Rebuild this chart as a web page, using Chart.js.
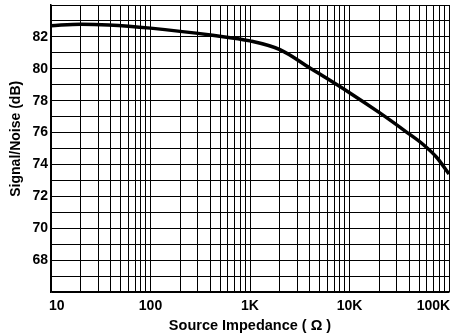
<!DOCTYPE html>
<html>
<head>
<meta charset="utf-8">
<script src="https://cdn.jsdelivr.net/npm/chart.js@4"></script>
<style>
html,body{margin:0;padding:0;background:#fff;}
#wrap{width:451px;height:335px;position:relative;}
</style>
</head>
<body>
<div id="wrap"><canvas id="c" width="451" height="335"></canvas></div>
<script>
const impedance = [10, 20, 38, 100, 420, 1000, 2000, 4000, 10000, 20500, 38000, 55000, 75000, 100000];
const snr = [82.7, 82.8, 82.75, 82.55, 82.1, 81.75, 81.2, 80.05, 78.5, 77.2, 76.0, 75.25, 74.45, 73.4];
const xTickValues = [10,20,30,40,50,60,70,80,90,100,200,300,400,500,600,700,800,900,1000,2000,3000,4000,5000,6000,7000,8000,9000,10000,20000,30000,40000,50000,60000,70000,80000,90000,100000];
const xTickLabels = {10: '   10', 100: '100', 1000: '1K', 10000: '10K', 100000: '100K        '};
const yLabels = [68, 70, 72, 74, 76, 78, 80, 82];
const xTitle = 'Source Impedance ( Ω )';
const yTitle = '     Signal/Noise (dB)';

const FONT = '"Liberation Sans", Arial, sans-serif';
Chart.defaults.font.family = FONT;
Chart.defaults.color = '#000';

new Chart(document.getElementById('c'), {
  type: 'line',
  data: {
    datasets: [{
      data: impedance.map((v, i) => ({x: v, y: snr[i]})),
      borderColor: '#000',
      borderWidth: 3.5,
      pointRadius: 0,
      cubicInterpolationMode: 'monotone',
      fill: false
    }]
  },
  options: {
    responsive: false,
    animation: false,
    layout: {padding: {left: 0, right: 2, top: 5, bottom: 0}},
    plugins: {legend: {display: false}, tooltip: {enabled: false}},
    scales: {
      x: {
        type: 'logarithmic',
        min: 10,
        max: 100000,
        afterBuildTicks: s => { s.ticks = xTickValues.map(v => ({value: v})); },
        afterFit: s => { s.height = 43; s.paddingLeft = 0; s.paddingRight = 0; },
        grid: {color: '#000', lineWidth: 1, drawTicks: false},
        border: {color: '#000', width: 1.5},
        ticks: {
          autoSkip: false, maxRotation: 0, padding: 6,
          font: {size: 14, weight: 'bold'},
          callback: v => xTickLabels[v] || ''
        },
        title: {display: true, text: xTitle, font: {size: 14.5, weight: 'bold'}, padding: {top: 0, bottom: 0}}
      },
      y: {
        min: 66,
        max: 84,
        afterBuildTicks: s => { const t = []; for (let v = 66; v <= 84; v++) t.push({value: v}); s.ticks = t; },
        afterFit: s => { s.width = 51; s.paddingTop = 0; s.paddingBottom = 0; },
        grid: {color: '#000', lineWidth: 1, drawTicks: false},
        border: {color: '#000', width: 1.5},
        ticks: {
          autoSkip: false, padding: 3,
          font: {size: 14, weight: 'bold'},
          callback: v => yLabels.includes(v) ? String(v) : ''
        },
        title: {display: true, text: yTitle, font: {size: 14, weight: 'bold'}, padding: {top: 8, bottom: 4}}
      }
    }
  }
});
</script>
</body>
</html>
